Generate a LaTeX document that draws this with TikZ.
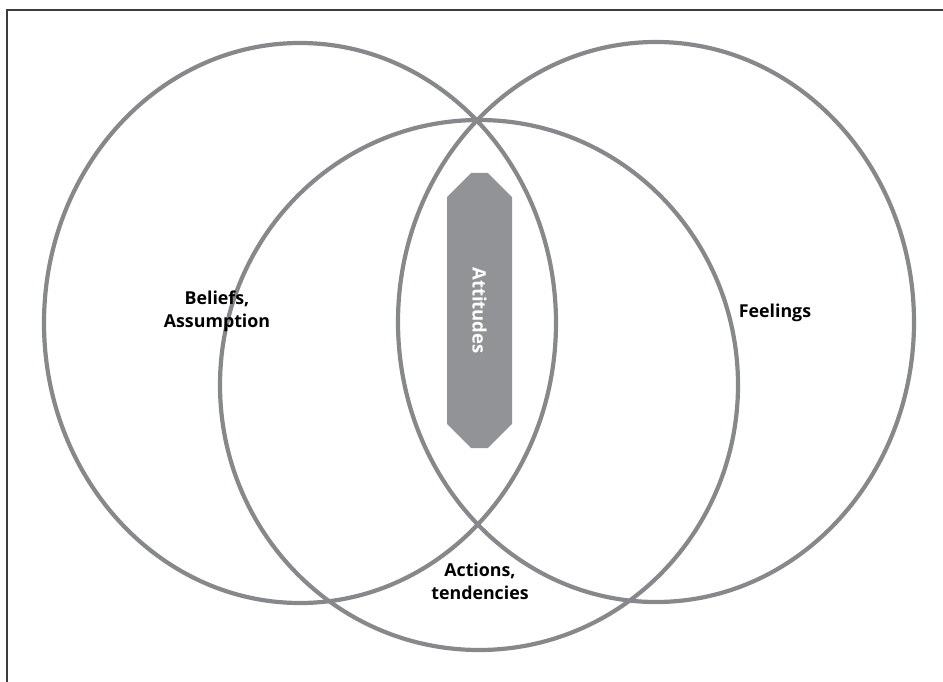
\documentclass[tikz,border=0pt]{standalone}
\usepackage{fontspec}
\setmainfont{Open Sans}
\usetikzlibrary{shapes.misc}
\definecolor{ringgrey}{HTML}{87888B}
\definecolor{boxgrey}{HTML}{929396}
\definecolor{framegrey}{HTML}{3C3C3C}

\begin{document}
\begin{tikzpicture}[x=1pt,y=-1pt,
  ring/.style={draw=ringgrey,line width=4.2pt},
  lbl/.style={font=\bfseries\fontsize{17.8}{23}\selectfont,align=center,text=black}]
\useasboundingbox (0,0) rectangle (943,682);
% frame, open on the right and at the bottom
\draw[framegrey,line width=2pt] (7,682) -- (7,10) -- (943,10);
% the three rings
\draw[ring] (300,323) ellipse [x radius=256, y radius=280];
\draw[ring] (656,322) ellipse [x radius=258, y radius=280];
\draw[ring] (479,385) ellipse [x radius=259, y radius=265];
% the bar in the middle
\node[chamfered rectangle,chamfered rectangle xsep=19pt,chamfered rectangle ysep=17pt,
  fill=boxgrey,minimum width=275pt,minimum height=65pt,inner sep=0pt,rotate=-90,
  text=white,font=\bfseries\fontsize{18.5}{20}\selectfont] (att) at (479.5,310.5) {Attitudes};
% labels
\node[lbl] (beliefs) at (217,311) {Beliefs,\\Assumption};
\node[lbl] (feelings) at (775,313) {Feelings};
\node[lbl] (actions) at (480,581) {Actions,\\tendencies};
\end{tikzpicture}
\end{document}
